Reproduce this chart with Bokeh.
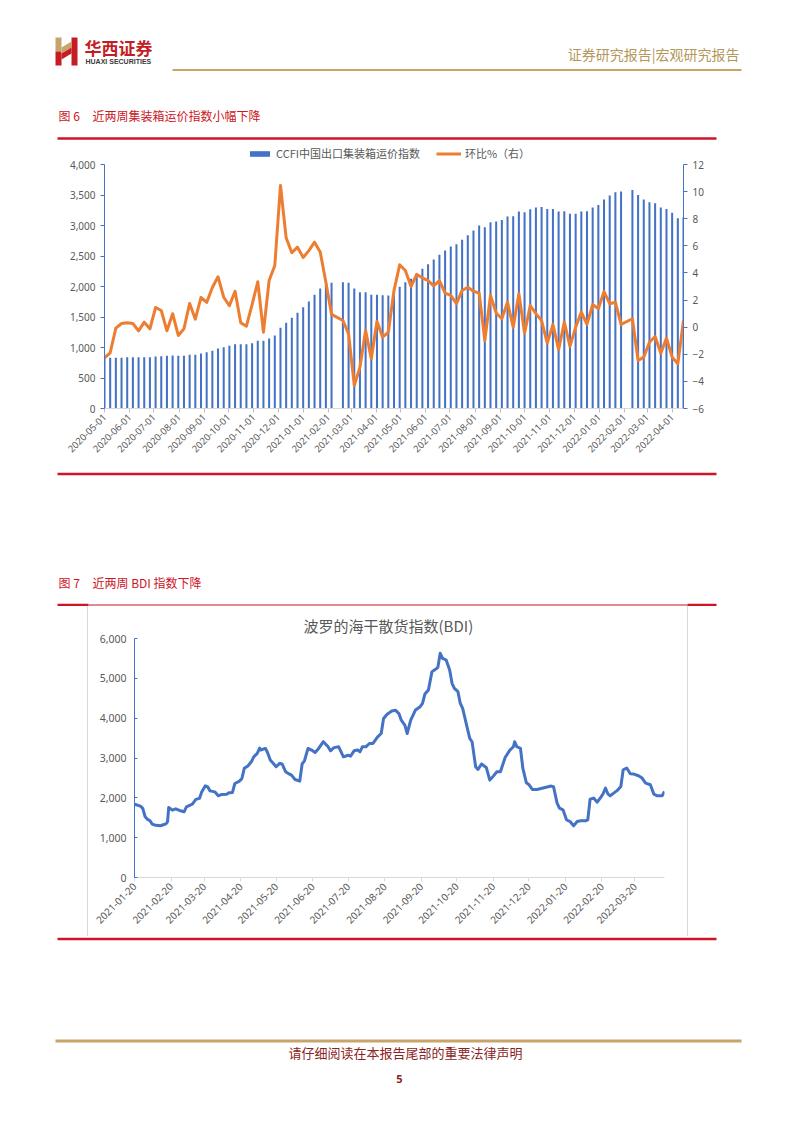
import pandas as pd
from math import pi
from bokeh.plotting import figure
from bokeh.models import (Range1d, LinearAxis, FixedTicker, NumeralTickFormatter,
                          DatetimeTickFormatter, Legend, LegendItem, Spacer, Div,
                          ColumnDataSource)
from bokeh.layouts import column, row
from bokeh.core.properties import value
from bokeh.embed import file_html
from bokeh.resources import INLINE

CJK = "Noto Sans CJK SC"
LAT = "Noto Sans"
GRAY = "#595959"
BLUE = "#4472C4"
ORANGE = "#ED7D31"
RED = "#CC1525"
GOLD = "#C9A46A"
W = 802

# ---------------- data: chart 6 (CCFI weekly) ----------------
ccfi_dates = [
    "2020-05-01", "2020-05-08", "2020-05-15", "2020-05-22", "2020-05-29",
    "2020-06-05", "2020-06-12", "2020-06-19", "2020-06-26",
    "2020-07-03", "2020-07-10", "2020-07-17", "2020-07-24", "2020-07-31",
    "2020-08-07", "2020-08-14", "2020-08-21", "2020-08-28",
    "2020-09-04", "2020-09-11", "2020-09-18", "2020-09-25",
    "2020-10-02", "2020-10-09", "2020-10-16", "2020-10-23", "2020-10-30",
    "2020-11-06", "2020-11-13", "2020-11-20", "2020-11-27",
    "2020-12-04", "2020-12-11", "2020-12-18", "2020-12-25",
    "2021-01-01", "2021-01-08", "2021-01-15", "2021-01-22", "2021-01-29",
    "2021-02-05", "2021-02-19", "2021-02-26",
    "2021-03-05", "2021-03-12", "2021-03-19", "2021-03-26",
    "2021-04-02", "2021-04-09", "2021-04-16", "2021-04-23", "2021-04-30",
    "2021-05-07", "2021-05-14", "2021-05-21", "2021-05-28",
    "2021-06-04", "2021-06-11", "2021-06-18", "2021-06-25",
    "2021-07-02", "2021-07-09", "2021-07-16", "2021-07-23", "2021-07-30",
    "2021-08-06", "2021-08-13", "2021-08-20", "2021-08-27",
    "2021-09-03", "2021-09-10", "2021-09-17", "2021-09-24",
    "2021-10-01", "2021-10-08", "2021-10-15", "2021-10-22", "2021-10-29",
    "2021-11-05", "2021-11-12", "2021-11-19", "2021-11-26",
    "2021-12-03", "2021-12-10", "2021-12-17", "2021-12-24", "2021-12-31",
    "2022-01-07", "2022-01-14", "2022-01-21", "2022-01-28",
    "2022-02-11", "2022-02-18", "2022-02-25",
    "2022-03-04", "2022-03-11", "2022-03-18", "2022-03-25",
    "2022-04-01", "2022-04-08", "2022-04-15",
]
ccfi_index = [
    830, 831, 831, 831, 841, 841, 841, 841, 841, 852, 857, 863, 868, 863,
    863, 880, 880, 901, 923, 945, 983, 1005, 1027, 1054, 1054, 1054, 1071,
    1109, 1109, 1147, 1196, 1322, 1404, 1486, 1568,
    1661, 1754, 1863, 1967, 2035, 2060, 2071, 2060, 1967, 1907, 1907, 1863,
    1863, 1858, 1852, 1900, 1994, 2071, 2126, 2208, 2290, 2366, 2442, 2519, 2590,
    2655, 2693, 2765, 2841, 2917, 2999, 2972, 3054, 3065, 3092, 3147, 3152, 3229,
    3218, 3267, 3294, 3305, 3272, 3272, 3229, 3234, 3191, 3191, 3229, 3234, 3294, 3338,
    3425, 3491, 3545, 3557, 3584, 3502, 3425, 3382, 3365, 3294, 3272, 3207, 3119, 3135,
]
ccfi_wow = [
    -2.26, -1.89, -0.07, 0.27, 0.32, 0.27, -0.27, 0.37, -0.12, 1.45, 1.23, -0.27, 0.99, -0.61,
    -0.12, 1.75, 0.59, 2.19, 1.82, 2.93, 3.72, 2.21, 1.58, 2.65, 0.32, 0.07, 1.67,
    3.35, -0.37, 3.44, 4.55, 10.45, 6.59, 5.49, 5.9,
    5.14, 5.65, 6.27, 5.55, 3.32, 0.94, 0.49, -0.49, -4.3, -2.95, -0.24, -2.33,
    0.44, -0.74, -0.37, 2.71, 4.6, 4.18, 3.0, 3.89, 3.64, 3.44, 3.05, 3.44, 2.51,
    2.34, 1.73, 2.71, 2.95, 2.65, 2.51, -0.98, 2.34, 1.05, 0.62, 1.84, 0.0, 2.46,
    -0.44, 1.6, 0.99, 0.49, -1.18, 0.2, -1.67, 0.37, -1.42, 0.0, 1.11, 0.2, 1.67, 1.36,
    2.63, 1.73, 1.84, 0.2, 0.62, -2.46, -2.21, -1.11, -0.69, -1.92, -0.81, -2.21, -2.7, 0.49,
]
ccfi_ticks = [
    "2020-05-01", "2020-06-01", "2020-07-01", "2020-08-01", "2020-09-01", "2020-10-01",
    "2020-11-01", "2020-12-01", "2021-01-01", "2021-02-01", "2021-03-01", "2021-04-01",
    "2021-05-01", "2021-06-01", "2021-07-01", "2021-08-01", "2021-09-01", "2021-10-01",
    "2021-11-01", "2021-12-01", "2022-01-01", "2022-02-01", "2022-03-01", "2022-04-01",
]
ccfi_left_ticks = [0, 500, 1000, 1500, 2000, 2500, 3000, 3500, 4000]
ccfi_right_ticks = [-6, -4, -2, 0, 2, 4, 6, 8, 10, 12]

# ---------------- data: chart 7 (BDI) ----------------
bdi_dates = [
    "2021-01-20", "2021-01-25", "2021-01-27", "2021-01-29", "2021-01-31", "2021-02-02",
    "2021-02-04", "2021-02-07", "2021-02-11", "2021-02-14", "2021-02-16", "2021-02-17",
    "2021-02-18", "2021-02-21", "2021-02-24", "2021-02-28", "2021-03-03", "2021-03-05",
    "2021-03-10", "2021-03-13", "2021-03-16", "2021-03-18", "2021-03-21", "2021-03-23",
    "2021-03-25", "2021-03-29", "2021-04-01", "2021-04-04", "2021-04-08", "2021-04-10",
    "2021-04-13", "2021-04-15", "2021-04-19", "2021-04-21", "2021-04-23", "2021-04-26",
    "2021-04-29", "2021-05-01", "2021-05-04", "2021-05-06", "2021-05-07", "2021-05-11",
    "2021-05-13", "2021-05-15", "2021-05-18", "2021-05-20", "2021-05-23", "2021-05-25",
    "2021-05-28", "2021-05-31", "2021-06-02", "2021-06-05", "2021-06-09", "2021-06-11",
    "2021-06-13", "2021-06-16", "2021-06-19", "2021-06-22", "2021-06-25", "2021-06-29",
    "2021-07-03", "2021-07-05", "2021-07-08", "2021-07-12", "2021-07-16", "2021-07-20",
    "2021-07-22", "2021-07-25", "2021-07-28", "2021-07-30", "2021-08-01", "2021-08-04",
    "2021-08-07", "2021-08-10", "2021-08-14", "2021-08-17", "2021-08-19", "2021-08-22",
    "2021-08-26", "2021-08-29", "2021-09-01", "2021-09-03", "2021-09-06", "2021-09-08",
    "2021-09-11", "2021-09-15", "2021-09-19", "2021-09-21", "2021-09-23", "2021-09-26",
    "2021-09-29", "2021-10-02", "2021-10-04", "2021-10-06", "2021-10-08", "2021-10-11",
    "2021-10-14", "2021-10-16", "2021-10-18", "2021-10-21", "2021-10-23", "2021-10-25",
    "2021-10-28", "2021-10-31", "2021-11-02", "2021-11-05", "2021-11-07", "2021-11-10",
    "2021-11-14", "2021-11-17", "2021-11-20", "2021-11-23", "2021-11-26", "2021-11-30",
    "2021-12-04", "2021-12-07", "2021-12-08", "2021-12-10", "2021-12-13", "2021-12-15",
    "2021-12-18", "2021-12-20", "2021-12-23", "2021-12-27", "2022-01-02", "2022-01-08",
    "2022-01-10", "2022-01-13", "2022-01-15", "2022-01-18", "2022-01-21", "2022-01-24",
    "2022-01-27", "2022-01-30", "2022-02-02", "2022-02-06", "2022-02-08", "2022-02-10",
    "2022-02-13", "2022-02-16", "2022-02-19", "2022-02-21", "2022-02-23", "2022-02-25",
    "2022-02-27", "2022-03-02", "2022-03-05", "2022-03-08", "2022-03-10", "2022-03-13",
    "2022-03-16", "2022-03-19", "2022-03-23", "2022-03-26", "2022-03-29", "2022-04-02",
    "2022-04-05", "2022-04-08", "2022-04-12", "2022-04-14",
]
bdi_values = [
    1840, 1790, 1735, 1525, 1460, 1430,
    1340, 1310, 1300, 1330, 1355, 1400,
    1760, 1690, 1725, 1675, 1650, 1775,
    1840, 1960, 1985, 2150, 2300, 2275,
    2175, 2150, 2050, 2085, 2090, 2125,
    2135, 2360, 2420, 2485, 2740, 2800,
    2905, 3030, 3115, 3250, 3200, 3240,
    3115, 2950, 2850, 2780, 2865, 2850,
    2655, 2600, 2570, 2460, 2420, 2850,
    2930, 3240, 3200, 3140, 3240, 3410,
    3280, 3180, 3260, 3280, 3030, 3070,
    3045, 3180, 3200, 3155, 3280, 3280,
    3365, 3365, 3530, 3615, 3990, 4100,
    4180, 4200, 4115, 3950, 3825, 3615,
    3952, 4204, 4288, 4372, 4606, 4707,
    5168, 5226, 5276, 5628, 5502, 5460,
    5209, 4874, 4749, 4665, 4372, 4246,
    3869, 3492, 3408, 2780, 2713, 2847,
    2763, 2445, 2545, 2654, 2654, 3014,
    3198, 3282, 3408, 3282, 3240, 2738,
    2378, 2336, 2211, 2211, 2253, 2295,
    2278, 1867, 1741, 1699, 1448, 1406,
    1297, 1406, 1423, 1423, 1448, 1967,
    1993, 1892, 2010, 2102, 2244, 2102,
    2051, 2118, 2186, 2286, 2705, 2747,
    2604, 2596, 2554, 2495, 2370, 2328,
    2093, 2051, 2051, 2160,
]
bdi_ticks = [
    "2021-01-20", "2021-02-20", "2021-03-20", "2021-04-20", "2021-05-20",
    "2021-06-20", "2021-07-20", "2021-08-20", "2021-09-20", "2021-10-20",
    "2021-11-20", "2021-12-20", "2022-01-20", "2022-02-20", "2022-03-20",
]
bdi_y_ticks = [0, 1000, 2000, 3000, 4000, 5000, 6000]

# ---------------- texts ----------------
brand_cn = "华西证券"
brand_en = "HUAXI SECURITIES"
header_right = "证券研究报告|宏观研究报告"
cap6_no, cap6_txt = "图 6", "近两周集装箱运价指数小幅下降"
cap7_no, cap7_txt = "图 7", "近两周 BDI 指数下降"
legend6 = ["CCFI中国出口集装箱运价指数", "环比%（右）"]
title7 = "波罗的海干散货指数(BDI)"
footer = "请仔细阅读在本报告尾部的重要法律声明"
page_no = "5"


def ms(s):
    return pd.Timestamp(s).value // 10**6


def canvas(top, bottom):
    f = figure(width=W, height=bottom - top, x_range=Range1d(0, W),
               y_range=Range1d(bottom, top), x_axis_type=None, y_axis_type=None,
               output_backend="svg", toolbar_location=None, min_border=0,
               outline_line_color=None, background_fill_color="white",
               border_fill_color="white")
    f.grid.visible = False
    return f


def txt(f, x, y, s, size, color, font=CJK, align="left", style="normal"):
    f.text(x=[x], y=[y], text=[s], text_font=value(font), text_font_size=size,
           text_color=color, text_align=align, text_baseline="middle",
           text_font_style=style)


def hline(f, x0, x1, y, color, w):
    f.segment(x0=[x0], y0=[y], x1=[x1], y1=[y], line_color=color, line_width=w)


# ---------------- header canvas ----------------
cA = canvas(0, 140)
cA.quad(left=[55], right=[61], top=[37], bottom=[51], color=GOLD, line_color=None)
cA.quad(left=[55], right=[61], top=[51], bottom=[65], color="#C41E24", line_color=None)
cA.quad(left=[71], right=[77], top=[37], bottom=[65], color="#C41E24", line_color=None)
cA.patch(x=[61, 71, 71, 61], y=[47, 41, 47, 53], color=GOLD, line_color=None)
cA.patch(x=[61, 71, 71, 61], y=[53, 47, 53, 59], color="#C41E24", line_color=None)
txt(cA, 84, 46.5, brand_cn, "17px", "#C41E24", style="bold")
txt(cA, 85, 61, brand_en, "7px", "#3A3A3A", font="Liberation Sans", style="bold")
txt(cA, 739, 53, header_right, "14px", "#B4975A", align="right")
hline(cA, 172, 741, 69.5, GOLD, 2)
txt(cA, 58, 115, cap6_no, "12px", RED)
txt(cA, 92, 115, cap6_txt, "12px", RED)
hline(cA, 57, 716, 138, RED, 2.5)

# ---------------- chart 6 ----------------
# frame: x 104..683, y 146..408 ; 0..4000 spans y 408..164
src6 = ColumnDataSource(dict(x=pd.to_datetime(ccfi_dates), idx=ccfi_index, wow=ccfi_wow))
p1 = figure(width=W, height=330, x_axis_type="datetime",
            x_range=Range1d(pd.Timestamp(ccfi_dates[0]), pd.Timestamp(ccfi_dates[-1])),
            y_range=Range1d(0, 4000 + 18 * 4000 / 244), output_backend="svg",
            toolbar_location=None, min_border_left=104, min_border_right=119,
            min_border_top=6, min_border_bottom=62, outline_line_color=None)
p1.grid.visible = False
p1.extra_y_ranges = {"pct": Range1d(-6, 12 + 18 * 18 / 244)}
bars = p1.vbar(x="x", top="idx", width=2.5 * 86400000, source=src6,
               fill_color=BLUE, line_color=None)
ln = p1.line(x="x", y="wow", source=src6, y_range_name="pct",
             line_color=ORANGE, line_width=3, line_join="round")

p1.yaxis.ticker = FixedTicker(ticks=ccfi_left_ticks)
p1.yaxis.formatter = NumeralTickFormatter(format="0,0")
p1.yaxis.bounds = (0, 4000)
ax_r = LinearAxis(y_range_name="pct", ticker=FixedTicker(ticks=ccfi_right_ticks),
                  bounds=(-6, 12))
p1.add_layout(ax_r, "right")
for ax in (p1.yaxis[0], ax_r):
    ax.axis_line_color = BLUE
    ax.major_tick_line_color = BLUE
    ax.major_tick_out = 4
    ax.major_tick_in = 0
    ax.minor_tick_line_color = None
    ax.major_label_text_font = LAT
    ax.major_label_text_font_size = "10px"
    ax.major_label_text_color = GRAY
    ax.major_label_standoff = 5
xa = p1.xaxis[0]
xa.ticker = FixedTicker(ticks=[ms(t) for t in ccfi_ticks])
xa.formatter = DatetimeTickFormatter(days="%Y-%m-%d", months="%Y-%m-%d", years="%Y-%m-%d")
xa.major_label_orientation = pi / 4
xa.axis_line_color = "#D9D9D9"
xa.major_tick_line_color = "#BFBFBF"
xa.major_tick_out = 4
xa.major_tick_in = 0
xa.minor_tick_line_color = None
xa.major_label_text_font = LAT
xa.major_label_text_font_size = "9.5px"
xa.major_label_text_color = GRAY
xa.major_label_standoff = 3

leg = Legend(items=[LegendItem(label=legend6[0], renderers=[bars]),
                    LegendItem(label=legend6[1], renderers=[ln])],
             location=(143, 247), orientation="horizontal",
             label_text_font=CJK, label_text_font_size="11px", label_text_color=GRAY,
             glyph_width=25, glyph_height=7, label_height=12, label_standoff=4,
             spacing=16, padding=0, margin=0, border_line_color=None,
             background_fill_alpha=0)
p1.add_layout(leg)

# ---------------- middle canvas ----------------
cB = canvas(470, 606)
hline(cB, 57, 716, 473.5, RED, 2.5)
txt(cB, 58, 582, cap7_no, "12px", RED)
txt(cB, 92, 582, cap7_txt, "12px", RED)
hline(cB, 57, 88, 604.5, RED, 2.5)
hline(cB, 88, 687, 604.5, RED, 1.2)
hline(cB, 687, 716, 604.5, RED, 2.5)

# ---------------- chart 7 ----------------
# figure spans x 88..687, y 606..936 ; frame x 134..664, y 638..877
src7 = ColumnDataSource(dict(x=pd.to_datetime(bdi_dates), y=bdi_values))
p2 = figure(width=599, height=330, x_axis_type="datetime",
            x_range=Range1d(pd.Timestamp(bdi_dates[0]), pd.Timestamp(bdi_dates[-1])),
            y_range=Range1d(0, 6000), output_backend="svg", toolbar_location=None,
            min_border_left=46, min_border_right=23, min_border_top=32,
            min_border_bottom=59, outline_line_color=None, title=title7)
p2.grid.visible = False
p2.title.text_font = CJK
p2.title.text_font_size = "15px"
p2.title.text_color = GRAY
p2.title.text_font_style = "normal"
p2.title.align = "left"
p2.title.offset = 169
p2.title.standoff = 6
p2.line(x="x", y="y", source=src7, line_color=BLUE, line_width=3, line_join="round")
ya = p2.yaxis[0]
ya.ticker = FixedTicker(ticks=bdi_y_ticks)
ya.formatter = NumeralTickFormatter(format="0,0")
ya.axis_line_color = BLUE
ya.major_tick_line_color = BLUE
ya.major_tick_in = 3
ya.major_tick_out = 0
ya.minor_tick_line_color = None
ya.major_label_text_font = LAT
ya.major_label_text_font_size = "10.5px"
ya.major_label_text_color = GRAY
ya.major_label_standoff = 8
xb = p2.xaxis[0]
xb.ticker = FixedTicker(ticks=[ms(t) for t in bdi_ticks])
xb.formatter = DatetimeTickFormatter(days="%Y-%m-%d", months="%Y-%m-%d", years="%Y-%m-%d")
xb.major_label_orientation = pi / 4
xb.axis_line_color = "#D9D9D9"
xb.major_tick_line_color = "#D9D9D9"
xb.major_tick_out = 4
xb.major_tick_in = 0
xb.minor_tick_line_color = None
xb.major_label_text_font = LAT
xb.major_label_text_font_size = "10px"
xb.major_label_text_color = GRAY
xb.major_label_standoff = 3

edge_l = Div(text="", width=1, height=330, margin=0, styles={"background-color": "#D9D9D9"})
edge_r = Div(text="", width=1, height=330, margin=0, styles={"background-color": "#D9D9D9"})
row7 = row(Spacer(width=87, height=330, margin=0), edge_l, p2, edge_r,
           Spacer(width=114, height=330, margin=0))

# ---------------- footer canvas ----------------
cC = canvas(936, 1133)
hline(cC, 57, 716, 938.5, RED, 2.5)
hline(cC, 55, 741, 1040.5, GOLD, 3)
txt(cC, 405, 1052, footer, "13px", "#8B2323", align="center")
txt(cC, 399, 1078, page_no, "11px", "#8B2323", font=LAT, align="center", style="bold")

page = column(row(cA), row(p1), row(cB), row7, row(cC))
open("out.html", "w").write(file_html(page, INLINE))
